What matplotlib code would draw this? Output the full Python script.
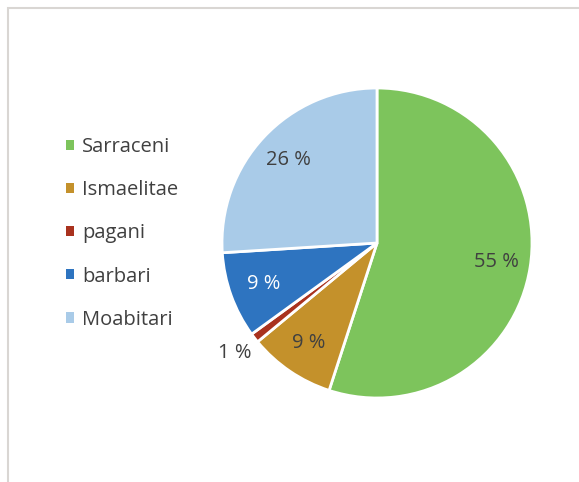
import numpy as np
import matplotlib
matplotlib.use("Agg")
from matplotlib import pyplot as plt
from matplotlib.patches import Patch, Rectangle

labels = ["Sarraceni", "Ismaelitae", "pagani", "barbari", "Moabitari"]
values = [55, 9, 1, 9, 26]
colors = ["#7dc45c", "#c4912b", "#a9321e", "#2e74c0", "#a9cbe8"]
pct_colors = ["#404040", "#404040", "#404040", "#ffffff", "#404040"]

plt.rcParams['font.family'] = ['Open Sans', 'DejaVu Sans']

fig = plt.figure(figsize=(5.79, 4.82), dpi=100)
fig.patch.set_facecolor("white")

# faint frame of the chart area
fig.add_artist(Rectangle((8 / 579, -0.05), 1.0, 1 - 8 / 482 + 0.05,
                         transform=fig.transFigure, fill=False,
                         edgecolor="#d9d6d3", linewidth=1.5))

ax = fig.add_axes([(377 - 155) / 579, 1 - (243 + 155) / 482, 310 / 579, 310 / 482])
wedges, texts, autotexts = ax.pie(
    values, colors=colors, startangle=90, counterclock=False,
    autopct=lambda p: "{:.0f} %".format(p), pctdistance=0.78,
    wedgeprops=dict(edgecolor="white", linewidth=2),
    textprops=dict(fontsize=14.5, color="#404040"))
ax.set_aspect("equal")
ax.set_xlim(-1, 1)
ax.set_ylim(-1, 1)

for t, c in zip(autotexts, pct_colors):
    t.set_color(c)
    t.set_clip_on(False)

# small slice label sits outside the pie
w = wedges[2]
mid = np.deg2rad((w.theta1 + w.theta2) / 2)
autotexts[2].set_position((1.16 * np.cos(mid), 1.16 * np.sin(mid)))

handles = [Patch(facecolor=c, edgecolor="none") for c in colors]
fig.legend(handles, labels, loc="upper left", bbox_to_anchor=(58 / 579, 1 - 129 / 482),
           frameon=False, fontsize=14.5, labelcolor="#404040",
           handlelength=0.4, handleheight=0.4, handletextpad=0.4,
           labelspacing=1.15, borderaxespad=0)

fig.savefig("out.png", dpi=100)
